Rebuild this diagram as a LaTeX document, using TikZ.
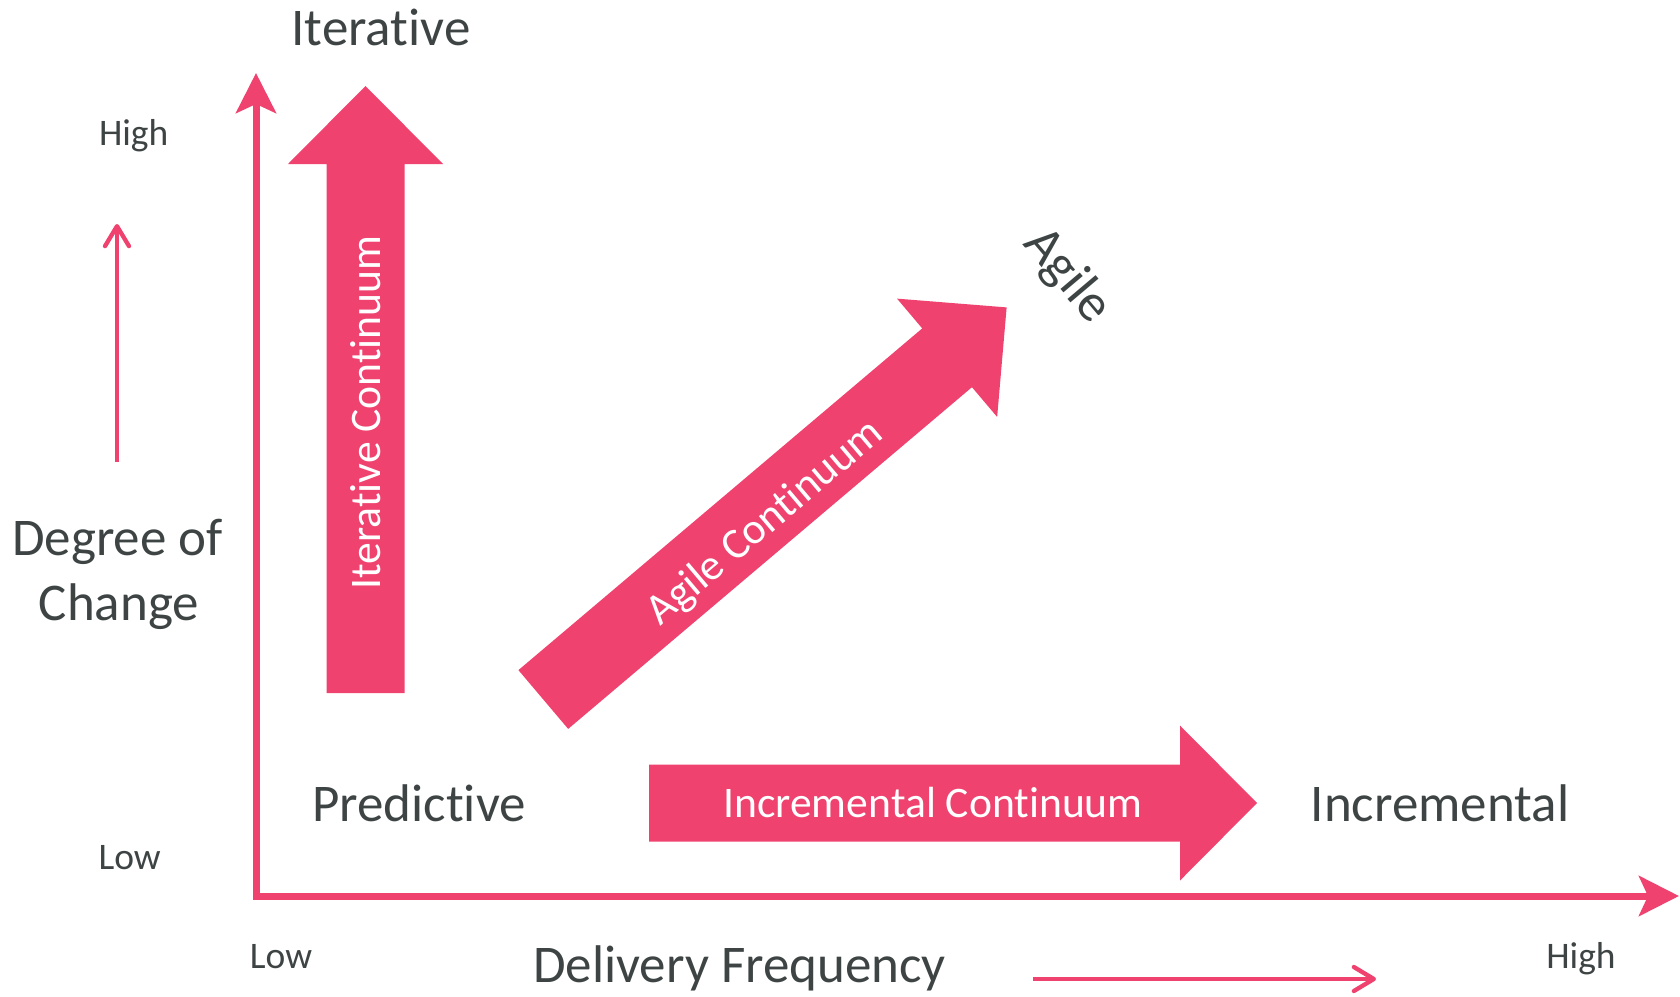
\documentclass[tikz,border=0pt]{standalone}
\usepackage{fontspec}
\setmainfont{Carlito}[Ligatures=NoCommon]
\usetikzlibrary{arrows.meta}
\definecolor{arrowpink}{HTML}{EF426F}
\definecolor{labelgray}{HTML}{3E4444}

\begin{document}
\begin{tikzpicture}[x=1pt,y=-1pt,
    axis/.style={line width=7pt,color=arrowpink,line join=miter},
    hint/.style={line width=4.3pt,color=arrowpink,-{Straight Barb[length=20pt,width=24pt,round]}},
    bigarrow/.style={fill=arrowpink},
    big/.style={inner sep=0pt,text=labelgray,font=\fontsize{53}{62}\selectfont,anchor=base},
    small/.style={inner sep=0pt,text=labelgray,font=\fontsize{37.5}{45}\selectfont,anchor=base},
    inside/.style={inner sep=0pt,text=white,font=\fontsize{43.6}{52}\selectfont,text height=28pt,text depth=0pt}]
      \useasboundingbox (0,0) rectangle (1680,996);
      % axes
      \draw[axis,{Stealth[length=40pt,width=40pt,inset=9pt]}-{Stealth[length=40pt,width=40pt,inset=9pt]}] (256,73) |- (1679,896);
      \draw[hint] (117,462) -- (117,224);
      \draw[hint] (1033,979) -- (1376,979);
      % the three continua
      \fill[bigarrow] (326.5,693) -- (326.5,164) -- (288,164) -- (365.5,86) -- (443,164) -- (404.5,164) -- (404.5,693) -- cycle;
      \fill[bigarrow] (649,764.5) -- (1180,764.5) -- (1180,725.5) -- (1257,803) -- (1180,880.5) -- (1180,841.5) -- (649,841.5) -- cycle;
      \begin{scope}[shift={(543.3,699.5)},rotate=40.24]
        \fill[bigarrow] (0,38.5) -- (529,38.5) -- (529,77.5) -- (607,0) -- (529,-77.5) -- (529,-38.5) -- (0,-38.5) -- cycle;
      \end{scope}
      \node[inside,rotate=90] (itercont) at (366.7,412.5) {Iterative Continuum};
      \node[inside] (inccont) at (933,803) {Incremental Continuum};
      \node[inside,rotate=40.24] (agilecont) at (764,521) {Agile Continuum};
      % labels
      \node[big] (iterative) at (381,45) {Iterative};
      \node[big] (predictive) at (419,821.5) {Predictive};
      \node[big] (incremental) at (1440,821.7) {Incremental};
      \node[big,anchor=center,rotate=-49.76] (agile) at (1067,276) {Agile};
      \node[big] (degree) at (117.5,555) {Degree of};
      \node[big] (change) at (119,620) {Change};
      \node[big] (delivery) at (739.5,982.7) {Delivery Frequency};
      \node[small] (highy) at (133.7,145) {High};
      \node[small] (lowy) at (129.6,869.5) {Low};
      \node[small] (lowx) at (281,968.3) {Low};
      \node[small] (highx) at (1581,968) {High};
    \end{tikzpicture}
\end{document}
